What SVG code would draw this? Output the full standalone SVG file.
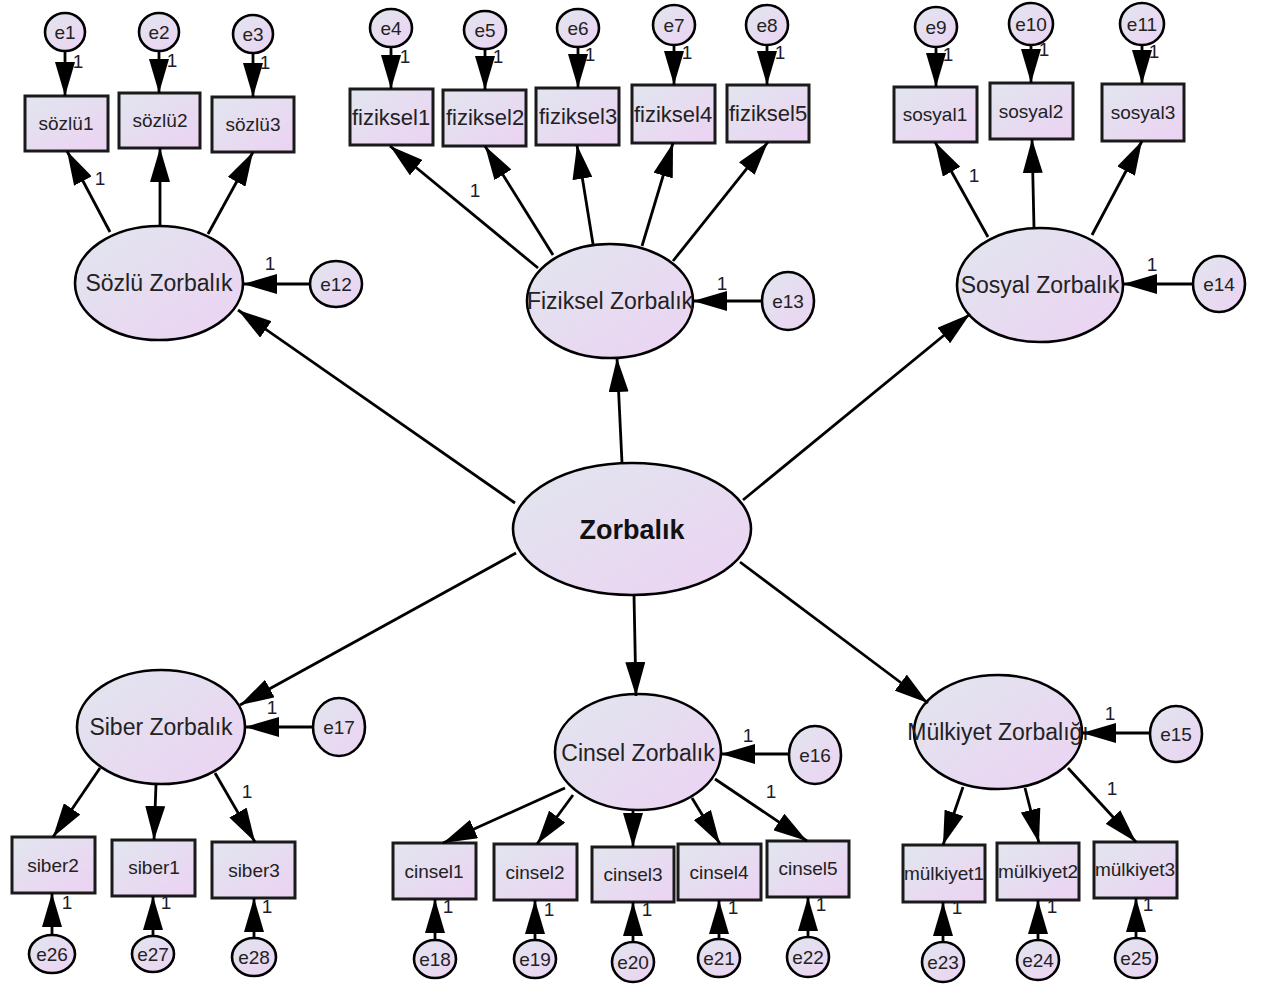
<svg xmlns="http://www.w3.org/2000/svg" width="1263" height="988" viewBox="0 0 1263 988">
<defs>
<linearGradient id="g" x1="0" y1="0" x2="1" y2="1">
<stop offset="0" stop-color="#e1e6ee"/>
<stop offset="1" stop-color="#ecd2f3"/>
</linearGradient>
<marker id="ah" viewBox="0 0 34 20" refX="34" refY="10" markerWidth="34" markerHeight="20" markerUnits="userSpaceOnUse" orient="auto">
<path d="M0,0 L34,10 L0,20 z" fill="#000"/>
</marker>
<style>
.lat{fill:url(#g);stroke:#000;stroke-width:2.6}
.obs{fill:url(#g);stroke:#1a1a1a;stroke-width:3}
.err{fill:url(#g);stroke:#000;stroke-width:2.6}
.c{stroke:#000;stroke-width:2.8;fill:none;marker-end:url(#ah)}
text{font-family:"Liberation Sans",Arial,sans-serif;fill:#222;text-anchor:middle}
.tl{font-size:23px}
.tb{font-size:19px}
.tf{font-size:22px}
.te{font-size:19px}
.one{font-size:19px;fill:#1c1c2c}
.main{font-size:27px;font-weight:bold;fill:#111}
</style>
</defs>
<rect width="1263" height="988" fill="#fff"/>

<!-- Latent nodes -->
<g id="Zorbalik"><ellipse class="lat" cx="632" cy="529" rx="119" ry="66"/><text class="main" x="632" y="539">Zorbalık</text></g>
<g id="SozluZorbalik"><ellipse class="lat" cx="159" cy="283" rx="84" ry="57"/><text class="tl" x="159" y="291">Sözlü Zorbalık</text></g>
<g id="FizikselZorbalik"><ellipse class="lat" cx="610" cy="301" rx="83" ry="57"/><text class="tl" x="610" y="309">Fiziksel Zorbalık</text></g>
<g id="SosyalZorbalik"><ellipse class="lat" cx="1040" cy="285" rx="83" ry="57"/><text class="tl" x="1040" y="293">Sosyal Zorbalık</text></g>
<g id="SiberZorbalik"><ellipse class="lat" cx="161" cy="727" rx="84" ry="57"/><text class="tl" x="161" y="735">Siber Zorbalık</text></g>
<g id="CinselZorbalik"><ellipse class="lat" cx="638" cy="752" rx="83" ry="58"/><text class="tl" x="638" y="761">Cinsel Zorbalık</text></g>
<g id="MulkiyetZorbaligi"><ellipse class="lat" cx="998" cy="732" rx="84" ry="57"/><text class="tl" x="998" y="740">Mülkiyet Zorbalığı</text></g>

<!-- Observed nodes -->
<g id="sozlu1"><rect class="obs" x="25" y="96" width="83" height="55"/><text class="tb" x="66" y="130">sözlü1</text></g>
<g id="sozlu2"><rect class="obs" x="119" y="93" width="81" height="55"/><text class="tb" x="160" y="127">sözlü2</text></g>
<g id="sozlu3"><rect class="obs" x="212" y="97" width="82" height="55"/><text class="tb" x="253" y="131">sözlü3</text></g>

<g id="fiziksel1"><rect class="obs" x="350" y="89" width="83" height="56"/><text class="tf" x="391" y="125">fiziksel1</text></g>
<g id="fiziksel2"><rect class="obs" x="443" y="90" width="83" height="56"/><text class="tf" x="485" y="125">fiziksel2</text></g>
<g id="fiziksel3"><rect class="obs" x="536" y="88" width="83" height="57"/><text class="tf" x="578" y="124">fiziksel3</text></g>
<g id="fiziksel4"><rect class="obs" x="632" y="85" width="83" height="58"/><text class="tf" x="673" y="122">fiziksel4</text></g>
<g id="fiziksel5"><rect class="obs" x="727" y="85" width="82" height="57"/><text class="tf" x="768" y="121">fiziksel5</text></g>

<g id="sosyal1"><rect class="obs" x="894" y="87" width="83" height="55"/><text class="tb" x="935" y="121">sosyal1</text></g>
<g id="sosyal2"><rect class="obs" x="990" y="83" width="83" height="56"/><text class="tb" x="1031" y="118">sosyal2</text></g>
<g id="sosyal3"><rect class="obs" x="1102" y="84" width="82" height="57"/><text class="tb" x="1143" y="119">sosyal3</text></g>

<g id="siber2"><rect class="obs" x="12" y="837" width="83" height="56"/><text class="tb" x="53" y="872">siber2</text></g>
<g id="siber1"><rect class="obs" x="112" y="840" width="83" height="56"/><text class="tb" x="154" y="874">siber1</text></g>
<g id="siber3"><rect class="obs" x="212" y="842" width="83" height="56"/><text class="tb" x="254" y="877">siber3</text></g>

<g id="cinsel1"><rect class="obs" x="393" y="843" width="83" height="56"/><text class="tb" x="434" y="878">cinsel1</text></g>
<g id="cinsel2"><rect class="obs" x="494" y="844" width="83" height="56"/><text class="tb" x="535" y="879">cinsel2</text></g>
<g id="cinsel3"><rect class="obs" x="592" y="847" width="82" height="55"/><text class="tb" x="633" y="881">cinsel3</text></g>
<g id="cinsel4"><rect class="obs" x="678" y="844" width="83" height="56"/><text class="tb" x="719" y="879">cinsel4</text></g>
<g id="cinsel5"><rect class="obs" x="767" y="841" width="82" height="56"/><text class="tb" x="808" y="875">cinsel5</text></g>

<g id="mulkiyet1"><rect class="obs" x="903" y="845" width="82" height="57"/><text class="tb" x="944" y="880">mülkiyet1</text></g>
<g id="mulkiyet2"><rect class="obs" x="997" y="843" width="82" height="57"/><text class="tb" x="1038" y="878">mülkiyet2</text></g>
<g id="mulkiyet3"><rect class="obs" x="1094" y="842" width="83" height="56"/><text class="tb" x="1135" y="876">mülkiyet3</text></g>

<!-- Error nodes -->
<g id="e1"><ellipse class="err" cx="65" cy="32" rx="20" ry="19"/><text class="te" x="65" y="39">e1</text></g>
<g id="e2"><ellipse class="err" cx="159" cy="32" rx="20" ry="19"/><text class="te" x="159" y="39">e2</text></g>
<g id="e3"><ellipse class="err" cx="253" cy="34" rx="20" ry="19"/><text class="te" x="253" y="41">e3</text></g>
<g id="e4"><ellipse class="err" cx="391" cy="28" rx="21" ry="19"/><text class="te" x="391" y="35">e4</text></g>
<g id="e5"><ellipse class="err" cx="485" cy="30" rx="21" ry="19"/><text class="te" x="485" y="37">e5</text></g>
<g id="e6"><ellipse class="err" cx="578" cy="28" rx="21" ry="19"/><text class="te" x="578" y="35">e6</text></g>
<g id="e7"><ellipse class="err" cx="674" cy="25" rx="21" ry="20"/><text class="te" x="674" y="32">e7</text></g>
<g id="e8"><ellipse class="err" cx="767" cy="25" rx="21" ry="20"/><text class="te" x="767" y="32">e8</text></g>
<g id="e9"><ellipse class="err" cx="936" cy="27" rx="21" ry="20"/><text class="te" x="936" y="34">e9</text></g>
<g id="e10"><ellipse class="err" cx="1031" cy="24" rx="22" ry="21"/><text class="te" x="1031" y="31">e10</text></g>
<g id="e11"><ellipse class="err" cx="1142" cy="24" rx="22" ry="21"/><text class="te" x="1142" y="31">e11</text></g>
<g id="e12"><ellipse class="err" cx="336" cy="284" rx="26" ry="23"/><text class="te" x="336" y="291">e12</text></g>
<g id="e13"><ellipse class="err" cx="788" cy="301" rx="26" ry="29"/><text class="te" x="788" y="308">e13</text></g>
<g id="e14"><ellipse class="err" cx="1219" cy="284" rx="26" ry="28"/><text class="te" x="1219" y="291">e14</text></g>
<g id="e15"><ellipse class="err" cx="1176" cy="734" rx="26" ry="28"/><text class="te" x="1176" y="741">e15</text></g>
<g id="e16"><ellipse class="err" cx="815" cy="755" rx="26" ry="29"/><text class="te" x="815" y="762">e16</text></g>
<g id="e17"><ellipse class="err" cx="339" cy="727" rx="26" ry="29"/><text class="te" x="339" y="734">e17</text></g>
<g id="e18"><ellipse class="err" cx="435" cy="959" rx="21" ry="19"/><text class="te" x="435" y="966">e18</text></g>
<g id="e19"><ellipse class="err" cx="535" cy="959" rx="21" ry="19"/><text class="te" x="535" y="966">e19</text></g>
<g id="e20"><ellipse class="err" cx="633" cy="962" rx="21" ry="20"/><text class="te" x="633" y="969">e20</text></g>
<g id="e21"><ellipse class="err" cx="719" cy="958" rx="21" ry="19"/><text class="te" x="719" y="965">e21</text></g>
<g id="e22"><ellipse class="err" cx="808" cy="957" rx="21" ry="20"/><text class="te" x="808" y="964">e22</text></g>
<g id="e23"><ellipse class="err" cx="943" cy="962" rx="21" ry="20"/><text class="te" x="943" y="969">e23</text></g>
<g id="e24"><ellipse class="err" cx="1038" cy="960" rx="21" ry="20"/><text class="te" x="1038" y="967">e24</text></g>
<g id="e25"><ellipse class="err" cx="1136" cy="958" rx="21" ry="20"/><text class="te" x="1136" y="965">e25</text></g>
<g id="e26"><ellipse class="err" cx="52" cy="954" rx="23" ry="19"/><text class="te" x="52" y="961">e26</text></g>
<g id="e27"><ellipse class="err" cx="153" cy="954" rx="21" ry="18"/><text class="te" x="153" y="961">e27</text></g>
<g id="e28"><ellipse class="err" cx="254" cy="957" rx="22" ry="19"/><text class="te" x="254" y="964">e28</text></g>

<!-- Connectors -->
<g id="connectors">
<line class="c" x1="515" y1="503" x2="238" y2="310"/>
<line class="c" x1="622" y1="463" x2="617" y2="358"/>
<line class="c" x1="743" y1="500" x2="970" y2="314"/>
<line class="c" x1="516" y1="553" x2="240" y2="705"/>
<line class="c" x1="634" y1="595" x2="636" y2="696"/>
<line class="c" x1="740" y1="562" x2="928" y2="703"/>

<line class="c" x1="110" y1="232" x2="67" y2="151"/>
<line class="c" x1="160" y1="226" x2="160" y2="148"/>
<line class="c" x1="208" y1="234" x2="253" y2="152"/>

<line class="c" x1="538" y1="268" x2="390" y2="146"/>
<line class="c" x1="553" y1="255" x2="485" y2="146"/>
<line class="c" x1="593" y1="244" x2="577" y2="145"/>
<line class="c" x1="642" y1="246" x2="673" y2="143"/>
<line class="c" x1="673" y1="261" x2="768" y2="142"/>

<line class="c" x1="988" y1="237" x2="935" y2="142"/>
<line class="c" x1="1034" y1="228" x2="1032" y2="139"/>
<line class="c" x1="1092" y1="235" x2="1142" y2="141"/>

<line class="c" x1="100" y1="768" x2="53" y2="837"/>
<line class="c" x1="156" y1="784" x2="154" y2="840"/>
<line class="c" x1="215" y1="773" x2="255" y2="842"/>

<line class="c" x1="565" y1="788" x2="443" y2="843"/>
<line class="c" x1="573" y1="795" x2="537" y2="844"/>
<line class="c" x1="633" y1="810" x2="633" y2="847"/>
<line class="c" x1="692" y1="798" x2="720" y2="844"/>
<line class="c" x1="715" y1="779" x2="807" y2="841"/>

<line class="c" x1="963" y1="787" x2="943" y2="845"/>
<line class="c" x1="1025" y1="788" x2="1039" y2="843"/>
<line class="c" x1="1068" y1="768" x2="1136" y2="842"/>

<line class="c" x1="310" y1="284" x2="243" y2="284"/>
<line class="c" x1="762" y1="301" x2="693" y2="301"/>
<line class="c" x1="1193" y1="284" x2="1123" y2="284"/>
<line class="c" x1="313" y1="727" x2="245" y2="727"/>
<line class="c" x1="789" y1="754" x2="721" y2="754"/>
<line class="c" x1="1150" y1="733" x2="1082" y2="733"/>

<line class="c" x1="65" y1="51" x2="65" y2="96"/>
<line class="c" x1="159" y1="51" x2="159" y2="93"/>
<line class="c" x1="253" y1="53" x2="253" y2="97"/>
<line class="c" x1="391" y1="47" x2="391" y2="89"/>
<line class="c" x1="485" y1="49" x2="485" y2="90"/>
<line class="c" x1="578" y1="47" x2="578" y2="88"/>
<line class="c" x1="674" y1="45" x2="674" y2="85"/>
<line class="c" x1="767" y1="45" x2="767" y2="85"/>
<line class="c" x1="936" y1="47" x2="936" y2="87"/>
<line class="c" x1="1031" y1="45" x2="1031" y2="83"/>
<line class="c" x1="1142" y1="45" x2="1142" y2="84"/>

<line class="c" x1="52" y1="935" x2="52" y2="893"/>
<line class="c" x1="153" y1="936" x2="153" y2="896"/>
<line class="c" x1="254" y1="938" x2="254" y2="898"/>
<line class="c" x1="435" y1="940" x2="435" y2="899"/>
<line class="c" x1="535" y1="940" x2="535" y2="900"/>
<line class="c" x1="633" y1="942" x2="633" y2="902"/>
<line class="c" x1="719" y1="939" x2="719" y2="900"/>
<line class="c" x1="808" y1="937" x2="808" y2="897"/>
<line class="c" x1="943" y1="942" x2="943" y2="902"/>
<line class="c" x1="1038" y1="940" x2="1038" y2="900"/>
<line class="c" x1="1136" y1="938" x2="1136" y2="898"/>
</g>

<!-- Path labels -->
<g id="labels">
<text class="one" x="100" y="185">1</text>
<text class="one" x="475" y="197">1</text>
<text class="one" x="974" y="182">1</text>
<text class="one" x="247" y="798">1</text>
<text class="one" x="771" y="798">1</text>
<text class="one" x="1112" y="795">1</text>

<text class="one" x="270" y="270">1</text>
<text class="one" x="722" y="290">1</text>
<text class="one" x="1152" y="271">1</text>
<text class="one" x="272" y="714">1</text>
<text class="one" x="748" y="742">1</text>
<text class="one" x="1110" y="720">1</text>

<text class="one" x="78" y="68">1</text>
<text class="one" x="172" y="67">1</text>
<text class="one" x="265" y="69">1</text>
<text class="one" x="405" y="63">1</text>
<text class="one" x="498" y="63">1</text>
<text class="one" x="590" y="61">1</text>
<text class="one" x="687" y="59">1</text>
<text class="one" x="780" y="59">1</text>
<text class="one" x="948" y="61">1</text>
<text class="one" x="1044" y="56">1</text>
<text class="one" x="1154" y="58">1</text>

<text class="one" x="67" y="909">1</text>
<text class="one" x="166" y="909">1</text>
<text class="one" x="267" y="913">1</text>
<text class="one" x="448" y="913">1</text>
<text class="one" x="549" y="916">1</text>
<text class="one" x="647" y="916">1</text>
<text class="one" x="733" y="914">1</text>
<text class="one" x="821" y="911">1</text>
<text class="one" x="957" y="914">1</text>
<text class="one" x="1052" y="913">1</text>
<text class="one" x="1148" y="911">1</text>
</g>
</svg>
